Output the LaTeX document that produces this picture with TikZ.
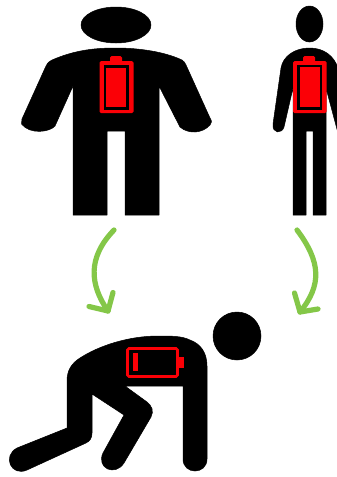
\documentclass[tikz,border=0pt]{standalone}
\definecolor{arrowgreen}{HTML}{84C748}
\definecolor{batred}{HTML}{FB0006}
\tikzset{
  figure/.style={fill=black,draw=black,line width=0.5pt,line join=round},
  batfill/.style={fill=batred,rounded corners=1.5pt},
  curvearrow/.style={draw=arrowgreen,line width=5.2pt,line cap=round,line join=round}
}
\begin{document}
\begin{tikzpicture}[x=1pt,y=-1pt]
\useasboundingbox (0,0) rectangle (337,477);
\clip (0,0) rectangle (337,477);
\fill[white] (0,0) rectangle (337,477);

% Figure 1
\fill[figure] (116,25) ellipse [x radius=35, y radius=18];
\path[figure] (73,215) -- (73,86) -- (55,126)
  .. controls (50,132) and (30,135) .. (21.5,124)
  .. controls (21,122) and (21,121) .. (22,119)
  -- (46,66) .. controls (48,62) and (50,61) .. (52,60)
  .. controls (75,50) and (95,48) .. (116,48)
  .. controls (140,48) and (165,52) .. (182,60)
  .. controls (184,61) and (185,63) .. (186,65)
  -- (210,118) .. controls (212,121) and (212,123) .. (210,125)
  .. controls (202,134) and (188,134) .. (180,127)
  -- (159,86) -- (159,215) -- (125,215) -- (125,131) -- (107,131) -- (107,215) -- cycle;
\fill[batfill] (99.5,61) rectangle (133.5,113);
\fill[batfill] (110,56) rectangle (122,63);
\draw[black,line width=2.4pt] (105,66.5) rectangle (127.5,108.5);

% Figure 2
\fill[figure] (309.5,24) ellipse [x radius=13.5, y radius=18];
\path[figure] (293,215) -- (293,88) -- (284,127)
  .. controls (282,134) and (272,134) .. (273,124)
  -- (281,68) .. controls (283,56) and (295,48) .. (309.5,48)
  .. controls (324,48) and (334,56) .. (338,68)
  -- (345,124) -- (338,133) -- (326,88)
  -- (326,215) -- (313,215) -- (313,131) -- (306,131) -- (306,215) -- cycle;
\fill[batfill] (293,61) rectangle (326.5,113);
\fill[batfill] (303,56) rectangle (315,63);
\draw[black,line width=2.4pt] (298.5,66) rectangle (321,108.5);

% Arrows
\coordinate (a1s) at (114,230);
\coordinate (a1t) at (108,311);
\coordinate (a1l) at (89,306.5);
\coordinate (a1r) at (113,292.5);
\draw[curvearrow] (a1s) .. controls (87,258) and (90,285) .. (a1t);
\draw[curvearrow] (a1l) -- (a1t) -- (a1r);
\coordinate (a2s) at (297,230);
\coordinate (a2t) at (300,312);
\coordinate (a2l) at (294.5,293);
\coordinate (a2r) at (318,309);
\draw[curvearrow] (a2s) .. controls (321,262) and (322,285) .. (a2t);
\draw[curvearrow] (a2l) -- (a2t) -- (a2r);

% Figure 3
\fill[figure] (237,336) circle [radius=24];
\path[figure] (67,428) -- (67,381)
  .. controls (67,370) and (72,363) .. (80,358)
  .. controls (100,345) and (130,336) .. (158,336)
  .. controls (172,336) and (182,336) .. (190,340)
  .. controls (201,344) and (207,353) .. (207,366)
  -- (207,459) .. controls (207,475) and (183,475) .. (183,459)
  -- (183,386) -- (125,386) -- (147,402)
  .. controls (152,406) and (154,411) .. (151,417)
  -- (124,463) .. controls (115,477) and (96,468) .. (103,453)
  -- (124,415) -- (92,394) -- (92,433)
  .. controls (92,438) and (90,441) .. (86,443)
  -- (27,470) .. controls (11,477) and (2,456) .. (17,448)
  -- cycle;
\draw[batred,line width=2.8pt,rounded corners=1.5pt,fill=black] (127.5,348.5) rectangle (177.5,376.5);
\fill[batred] (178,357) rectangle (184,368);
\fill[batred] (133,353) rectangle (138,371);
\end{tikzpicture}
\end{document}
